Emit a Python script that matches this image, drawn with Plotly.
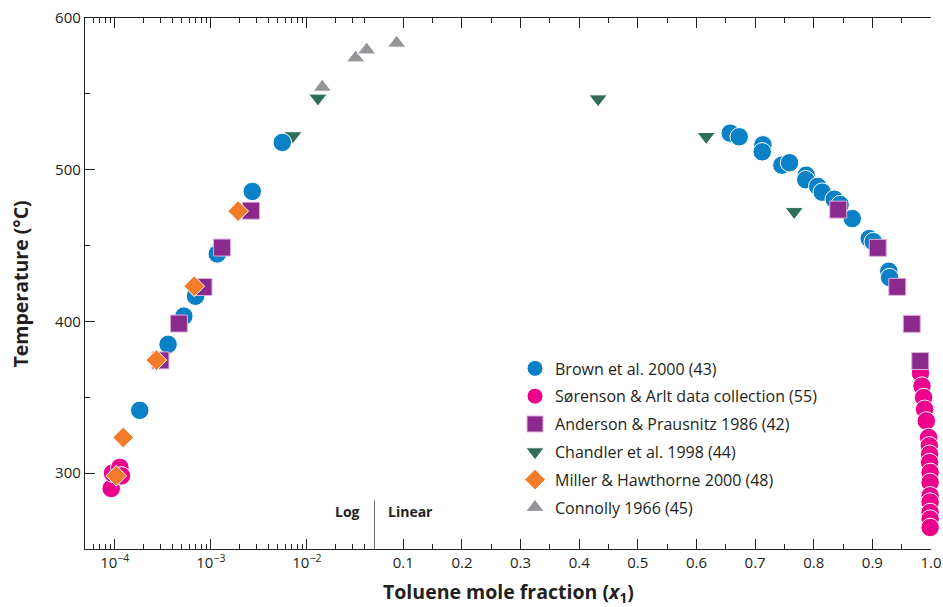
import numpy as np
import plotly.graph_objects as go

# ---------------- data (toluene mole fraction x1, temperature in °C) ----------------
brown_x = [0.000182, 0.000359, 0.000524, 0.000693, 0.001167, 0.002704, 0.00555,
           0.6575, 0.6729, 0.7133, 0.7121, 0.7457, 0.7587, 0.7872, 0.7864, 0.8068,
           0.8145, 0.835, 0.845, 0.8657, 0.8947, 0.9015, 0.928, 0.9293]
brown_t = [341.4, 384.9, 403.5, 416.6, 444.5, 485.7, 518.0,
           524.1, 521.7, 516.4, 511.8, 503.0, 504.6, 496.4, 493.4, 489.0,
           485.2, 480.6, 477.0, 467.8, 454.6, 452.6, 433.1, 428.9]

sorenson_x = [0.0000918, 0.0000946, 0.0001129, 0.0001175,
              0.982, 0.9846, 0.9874, 0.9891, 0.992, 0.9959, 0.9971, 0.9976, 0.9976,
              0.9985, 0.9985, 0.9985, 0.9985, 0.9985, 0.9985, 0.9985]
sorenson_t = [289.9, 300.0, 303.8, 298.2,
              366.0, 357.4, 349.8, 342.1, 334.4, 323.5, 318.0, 312.5, 307.0,
              300.5, 293.9, 285.1, 280.9, 274.1, 269.7, 264.2]

anderson_x = [0.000299, 0.000465, 0.000839, 0.001309, 0.002624,
              0.8418, 0.9092, 0.9425, 0.9672, 0.9817]
anderson_t = [374.3, 398.6, 422.7, 448.7, 473.0,
              473.7, 448.5, 422.8, 398.4, 373.9]

chandler_x = [0.00716, 0.01303, 0.4322, 0.6166, 0.7667]
chandler_t = [522.4, 547.2, 546.7, 521.9, 472.4]

miller_x = [0.0001035, 0.0001225, 0.000271, 0.000672, 0.001923]
miller_t = [298.2, 323.5, 374.5, 423.2, 472.7]

connolly_x = [0.01449, 0.0322, 0.0419, 0.0887]
connolly_t = [554.4, 573.7, 578.9, 583.4]

split_x = 0.05          # log scale below, linear scale above
log_ticks = [1e-4, 1e-3, 1e-2]
log_ticktext = ["10<sup>−4</sup>", "10<sup>−3</sup>", "10<sup>−2</sup>"]
lin_ticks = [0.1, 0.2, 0.3, 0.4, 0.5, 0.6, 0.7, 0.8, 0.9, 1.0]
lin_ticktext = ["0.1", "0.2", "0.3", "0.4", "0.5", "0.6", "0.7", "0.8", "0.9", "1.0"]
y_ticks = [300, 400, 500, 600]

# ---------------- styling ----------------
INK = "#231f20"
FONT = "Open Sans, Lato, DejaVu Sans, sans-serif"

series = [
    # name, xs, ts, symbol, size, color, outline, legend rank
    ("Connolly 1966 (45)", connolly_x, connolly_t, "triangle-up", 16, "#939598", "white", 6),
    ("Chandler et al. 1998 (44)", chandler_x, chandler_t, "triangle-down", 16, "#2f6f57", "white", 4),
    ("Brown et al. 2000 (43)", brown_x, brown_t, "circle", 18.5, "#0a80c6", "white", 1),
    ("Sørenson &amp; Arlt data collection (55)", sorenson_x, sorenson_t, "circle", 18.5, "#ec008c", "white", 2),
    ("Anderson &amp; Prausnitz 1986 (42)", anderson_x, anderson_t, "square", 17, "#8b2a8c", "#dcb0dc", 3),
    ("Miller &amp; Hawthorne 2000 (48)", miller_x, miller_t, "diamond", 16, "#f47b2a", "white", 5),
]

fig = go.Figure()
for name, xs, ts, sym, size, color, outline, rank in series:
    xs = np.asarray(xs)
    ts = np.asarray(ts)
    first = True
    for mask, xa in ((xs < split_x, "x"), (xs >= split_x, "x2")):
        if not mask.any():
            continue
        fig.add_trace(go.Scatter(
            x=xs[mask], y=ts[mask], mode="markers", name=name,
            xaxis=xa, yaxis="y", legendgroup=name, showlegend=first,
            legendrank=rank, cliponaxis=False,
            marker=dict(symbol=sym, size=size, color=color,
                        line=dict(color=outline, width=1)),
        ))
        first = False

d_split = (374 - 85) / 846.0

minor_log = [m * 10.0 ** e for e in (-5, -4, -3, -2) for m in range(2, 10)
             if 10 ** -4.31 <= m * 10.0 ** e <= 0.0501]
minor_lin = [round(0.15 + 0.1 * i, 2) for i in range(9)]
minor_y = [350, 450, 550]

axis_common = dict(showline=True, linecolor=INK, linewidth=1.3, ticks="inside",
                   tickcolor=INK, tickwidth=1.2, ticklen=10, showgrid=False,
                   zeroline=False, automargin=False,
                   tickfont=dict(family=FONT, size=15, color=INK))

fig.update_layout(
    width=943, height=607,
    margin=dict(l=85, r=12, t=18, b=58),
    paper_bgcolor="white", plot_bgcolor="white",
    font=dict(family=FONT, color=INK),
    xaxis=dict(type="log", domain=[0, d_split], range=[-4.31, np.log10(split_x)],
               anchor="y", mirror="ticks", tickmode="array", tickvals=log_ticks,
               ticktext=log_ticktext,
               minor=dict(tickvals=minor_log, ticks="inside", ticklen=5,
                          tickcolor=INK, tickwidth=1.2),
               **axis_common),
    xaxis2=dict(domain=[d_split, 1], range=[split_x, 1.0], anchor="y",
                mirror="ticks", tickmode="array", tickvals=lin_ticks,
                ticktext=lin_ticktext,
                minor=dict(tickvals=minor_lin, ticks="inside", ticklen=5,
                           tickcolor=INK, tickwidth=1.2),
                **axis_common),
    yaxis=dict(range=[250, 600], anchor="x", tickmode="array", tickvals=y_ticks,
               minor=dict(tickvals=minor_y, ticks="inside", ticklen=5,
                          tickcolor=INK, tickwidth=1.2),
               **axis_common),
    yaxis2=dict(range=[250, 600], anchor="x2", overlaying="y", side="right",
                tickmode="array", tickvals=y_ticks, showticklabels=False,
                minor=dict(tickvals=minor_y, ticks="inside", ticklen=5,
                           tickcolor=INK, tickwidth=1.2),
                **axis_common),
    legend=dict(x=0.5083, y=0.372, xanchor="left", yanchor="top",
                bgcolor="rgba(0,0,0,0)", borderwidth=0,
                font=dict(family=FONT, size=16, color=INK),
                traceorder="grouped", tracegroupgap=4),
    showlegend=True,
)

# divider between log and linear parts
fig.add_shape(type="line", xref="x2", yref="y", x0=split_x, x1=split_x,
              y0=250, y1=282, line=dict(color=INK, width=1.3))
fig.add_annotation(xref="x2", yref="y", x=split_x, y=275, text="<b>Log</b>",
                   showarrow=False, xanchor="right", xshift=-12,
                   font=dict(family=FONT, size=14, color=INK))
fig.add_annotation(xref="x2", yref="y", x=split_x, y=275, text="<b>Linear</b>",
                   showarrow=False, xanchor="left", xshift=12,
                   font=dict(family=FONT, size=14, color=INK))

# axis titles
fig.add_annotation(xref="paper", yref="paper", x=0.5, y=-0.081,
                   text="<b>Toluene mole fraction (<i>x</i><sub>1</sub>)</b>",
                   showarrow=False, xanchor="center", yanchor="middle",
                   font=dict(family=FONT, size=19.5, color=INK))
fig.add_annotation(xref="paper", yref="paper", x=-0.0757, y=0.5,
                   text="<b>Temperature (°C)</b>", textangle=-90,
                   showarrow=False, xanchor="center", yanchor="middle",
                   font=dict(family=FONT, size=19.5, color=INK))

fig.write_html("out.html",
               config={"displayModeBar": False},
               post_script="document.body.style.margin='0px';"
                           "document.body.style.overflow='hidden';")
